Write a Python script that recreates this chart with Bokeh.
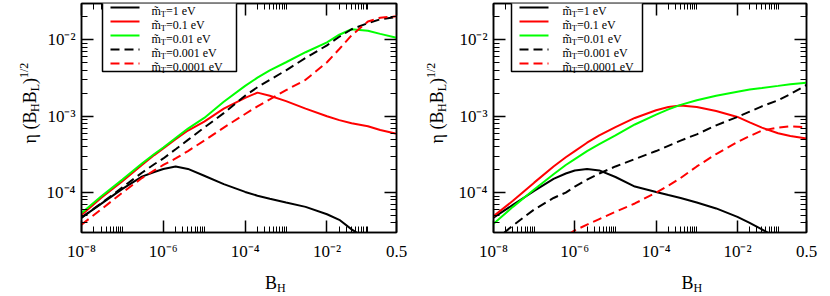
import math
from bokeh.plotting import figure
from bokeh.models import (Range1d, FixedTicker, LogAxis, CustomJSTickFormatter,
                          Label, BoxAnnotation, Arrow)
from bokeh.layouts import row, column
from bokeh.embed import file_html
from bokeh.resources import INLINE

# ---------------- data ----------------
B_H = [1e-8, 3e-8, 1e-7, 3e-7, 6e-7, 1e-6, 2e-6, 4e-6, 1e-5, 3e-5, 1e-4,
       2e-4, 4e-4, 1e-3, 3e-3, 1e-2, 2e-2, 4e-2, 1e-1, 2e-1, 5e-1]

# left panel
L_m1 = [4.7e-5, 7.1e-5, 1.12e-4, 1.62e-4, 1.86e-4, 2.04e-4, 2.19e-4, 2.04e-4, 1.66e-4, 1.29e-4, 1.02e-4,
        9.1e-5, 8.3e-5, 7.4e-5, 6.5e-5, 5.2e-5, 4.4e-5, 3.3e-5, 2.4e-5, 1.9e-5, 1.4e-5]
L_m01 = [5.1e-5, 8.5e-5, 1.41e-4, 2.3e-4, 3.1e-4, 3.8e-4, 5.0e-4, 6.5e-4, 8.5e-4, 1.26e-3, 1.74e-3,
         2.04e-3, 1.86e-3, 1.58e-3, 1.26e-3, 1.0e-3, 8.9e-4, 8.1e-4, 7.4e-4, 6.6e-4, 5.9e-4]
L_m001 = [5.4e-5, 8.9e-5, 1.48e-4, 2.4e-4, 3.2e-4, 3.9e-4, 5.2e-4, 6.9e-4, 9.5e-4, 1.55e-3, 2.5e-3,
          3.2e-3, 4.0e-3, 5.1e-3, 6.9e-3, 9.3e-3, 1.17e-2, 1.38e-2, 1.32e-2, 1.2e-2, 1.07e-2]
L_m0001 = [4.7e-5, 7.2e-5, 1.17e-4, 1.82e-4, 2.35e-4, 2.8e-4, 3.7e-4, 4.9e-4, 7.1e-4, 1.1e-3, 1.86e-3,
           2.4e-3, 3.0e-3, 4.0e-3, 5.8e-3, 8.5e-3, 1.1e-2, 1.38e-2, 1.66e-2, 1.86e-2, 2.0e-2]
L_m00001 = [3.8e-5, 6.0e-5, 1.0e-4, 1.55e-4, 1.95e-4, 2.3e-4, 2.8e-4, 3.5e-4, 4.8e-4, 7.1e-4, 1.07e-3,
            1.35e-3, 1.66e-3, 2.2e-3, 3.0e-3, 5.1e-3, 7.6e-3, 1.15e-2, 1.74e-2, 1.95e-2, 2.04e-2]

# right panel
R_m1 = [4.7e-5, 6.9e-5, 1.05e-4, 1.51e-4, 1.78e-4, 1.95e-4, 2.04e-4, 1.95e-4, 1.6e-4, 1.2e-4, 1.02e-4,
        9.3e-5, 8.5e-5, 7.4e-5, 6.2e-5, 4.8e-5, 4.0e-5, 3.3e-5, 2.5e-5, 2.0e-5, 1.5e-5]
R_m01 = [4.9e-5, 7.8e-5, 1.35e-4, 2.2e-4, 2.9e-4, 3.5e-4, 4.5e-4, 5.6e-4, 7.2e-4, 9.5e-4, 1.2e-3,
         1.32e-3, 1.38e-3, 1.32e-3, 1.17e-3, 9.8e-4, 8.3e-4, 7.1e-4, 6.0e-4, 5.5e-4, 5.1e-4]
R_m001 = [3.9e-5, 6.5e-5, 1.1e-4, 1.74e-4, 2.3e-4, 2.75e-4, 3.5e-4, 4.3e-4, 5.6e-4, 7.8e-4, 1.05e-3,
          1.23e-3, 1.41e-3, 1.62e-3, 1.86e-3, 2.1e-3, 2.24e-3, 2.34e-3, 2.5e-3, 2.63e-3, 2.75e-3]
R_m0001 = [2.3e-5, 3.7e-5, 6.0e-5, 8.5e-5, 1.0e-4, 1.2e-4, 1.48e-4, 1.78e-4, 2.2e-4, 2.75e-4, 3.5e-4,
           4.1e-4, 4.8e-4, 5.8e-4, 7.6e-4, 9.8e-4, 1.15e-3, 1.35e-3, 1.62e-3, 1.95e-3, 2.57e-3]
R_m00001 = [8.9e-6, 1.17e-5, 1.6e-5, 2.2e-5, 2.7e-5, 3.2e-5, 3.8e-5, 4.5e-5, 5.6e-5, 7.2e-5, 1.0e-4,
            1.23e-4, 1.55e-4, 2.2e-4, 3.2e-4, 4.6e-4, 5.5e-4, 6.5e-4, 7.1e-4, 7.4e-4, 7.2e-4]

LEGEND_LABELS = ["=1 eV", "=0.1 eV", "=0.01 eV", "=0.001 eV", "=0.0001 eV"]

X_TICKS = [1e-8, 1e-6, 1e-4, 1e-2, 0.5]
X_TICK_LABELS = ["10⁻⁸", "10⁻⁶", "10⁻⁴", "10⁻²", "0.5"]
X_MINOR = [2e-8, 3e-8, 4e-8, 5e-8, 6e-8, 7e-8, 8e-8, 9e-8, 1e-7,
           2e-6, 3e-6, 4e-6, 5e-6, 6e-6, 7e-6, 8e-6, 9e-6, 1e-5,
           2e-4, 3e-4, 4e-4, 5e-4, 6e-4, 7e-4, 8e-4, 9e-4, 1e-3,
           2e-2, 3e-2, 4e-2, 5e-2, 6e-2, 7e-2, 8e-2, 9e-2, 1e-1]
Y_TICKS = [1e-4, 1e-3, 1e-2]
Y_TICK_LABELS = ["10⁻⁴", "10⁻³", "10⁻²"]
Y_MINOR = [4e-5, 5e-5, 6e-5, 7e-5, 8e-5, 9e-5,
           2e-4, 3e-4, 4e-4, 5e-4, 6e-4, 7e-4, 8e-4, 9e-4,
           2e-3, 3e-3, 4e-3, 5e-3, 6e-3, 7e-3, 8e-3, 9e-3,
           2e-2, 3e-2]

STYLES = [("black", "solid"), ("red", "solid"), ("#00ff00", "solid"),
          ("black", "9 5"), ("red", "9 5")]

FONT = "Liberation Serif"
TOTAL_H = 296
XLAB_H = 33
PANEL_H = TOTAL_H - XLAB_H
B_TOP = 3
B_BOT = 29
FH = PANEL_H - B_TOP - B_BOT


def label_fmt(tv, tl):
    return CustomJSTickFormatter(args=dict(tv=tv, tl=tl), code="""
        for (let i = 0; i < tv.length; i++) {
            if (Math.abs(tick / tv[i] - 1) < 1e-6) { return tl[i]; }
        }
        return "";
    """)


def style_axis(ax, labels=True):
    ax.axis_line_width = 1.5
    ax.axis_line_color = "black"
    ax.major_tick_in = 12
    ax.major_tick_out = 0
    ax.minor_tick_in = 6
    ax.minor_tick_out = 0
    ax.major_tick_line_width = 1.5
    ax.minor_tick_line_width = 1
    ax.major_tick_line_color = "black"
    ax.minor_tick_line_color = "black"
    if labels:
        ax.major_label_text_font = FONT
        ax.major_label_text_font_size = "17px"
        ax.major_label_text_color = "black"
    else:
        ax.major_label_text_font_size = "0px"
        ax.major_label_standoff = 0


def text_fig(w, h):
    f = figure(width=w, height=h, output_backend="svg", toolbar_location=None,
               x_axis_location=None, y_axis_location=None, min_border=0,
               x_range=Range1d(0, 1), y_range=Range1d(0, 1),
               outline_line_color=None, background_fill_color="white",
               border_fill_color="white")
    f.grid.visible = False
    return f


def ylab_fig(w, xb):
    f = text_fig(w, TOTAL_H)
    y0 = 153
    # η (B_H B_L)^1/2, rotated, pieces placed along the text direction
    pieces = [("η (B", 0.0, 0, "18px"), ("H", 31.5, 5, "12px"), ("B", 40.2, 0, "18px"),
              ("L", 52.2, 5, "12px"), (")", 59.5, 0, "18px"), ("1/2", 65.5, -6, "12px")]
    for txt, dy, dx, fs in pieces:
        f.add_layout(Label(x=xb + dx, y=y0 + dy, x_units="screen", y_units="screen",
                           text=txt, angle=math.pi / 2, text_font=FONT, text_font_size=fs,
                           text_color="black", text_align="left", text_baseline="alphabetic"))
    return f


def xlab_fig(w, xb):
    f = text_fig(w, XLAB_H)
    f.add_layout(Label(x=xb, y=14, x_units="screen", y_units="screen",
                       text="B", text_font=FONT, text_font_size="18px",
                       text_color="black", text_baseline="alphabetic"))
    f.add_layout(Label(x=xb + 12, y=8.5, x_units="screen", y_units="screen",
                       text="H", text_font=FONT, text_font_size="12px",
                       text_color="black", text_baseline="alphabetic"))
    return f


def panel(series, fig_w, bl, br, leg_left, leg_w, sample_x0, text_x0):
    p = figure(width=fig_w, height=PANEL_H, x_axis_type="log", y_axis_type="log",
               x_range=Range1d(1e-8, 0.5), y_range=Range1d(3e-5, 3e-2),
               output_backend="svg", toolbar_location=None,
               min_border_left=bl, min_border_right=br,
               min_border_top=B_TOP, min_border_bottom=B_BOT,
               background_fill_color="white", border_fill_color="white")
    p.grid.visible = False
    p.outline_line_color = "black"
    p.outline_line_width = 1.5

    for vals, (color, dash) in zip(series, STYLES):
        p.line(B_H, vals, line_color=color, line_width=2, line_dash=dash)

    p.xaxis.ticker = FixedTicker(ticks=X_TICKS, minor_ticks=X_MINOR)
    p.xaxis.formatter = label_fmt(X_TICKS, X_TICK_LABELS)
    p.yaxis.ticker = FixedTicker(ticks=Y_TICKS, minor_ticks=Y_MINOR)
    p.yaxis.formatter = label_fmt(Y_TICKS, Y_TICK_LABELS)
    for ax in p.xaxis + p.yaxis:
        style_axis(ax)
    p.xaxis.major_label_standoff = 9
    p.yaxis.major_label_standoff = 6

    top = LogAxis(ticker=FixedTicker(ticks=X_TICKS, minor_ticks=X_MINOR),
                  formatter=CustomJSTickFormatter(code="return '';"))
    right = LogAxis(ticker=FixedTicker(ticks=Y_TICKS, minor_ticks=Y_MINOR),
                    formatter=CustomJSTickFormatter(code="return '';"))
    style_axis(top, labels=False)
    style_axis(right, labels=False)
    p.add_layout(top, "above")
    p.add_layout(right, "right")

    # legend (XMGrace-like box)
    p.add_layout(BoxAnnotation(left=leg_left, right=leg_left + leg_w, top=FH, bottom=FH - 70,
                               left_units="screen", right_units="screen",
                               top_units="screen", bottom_units="screen",
                               fill_color="white", fill_alpha=1.0,
                               line_color="black", line_alpha=1.0, line_width=1.5))
    rows = [6, 20, 34, 48, 62]
    for r, (color, dash), txt in zip(rows, STYLES, LEGEND_LABELS):
        yc = FH - r
        p.add_layout(Arrow(end=None, x_start=sample_x0, x_end=sample_x0 + 29,
                           y_start=yc, y_end=yc, start_units="screen", end_units="screen",
                           line_color=color, line_width=2, line_dash=dash))
        p.add_layout(Label(x=text_x0, y=yc - 3.5, x_units="screen", y_units="screen",
                           text="m̃", text_font=FONT, text_font_size="12px",
                           text_color="black", text_baseline="alphabetic"))
        p.add_layout(Label(x=text_x0 + 9.3, y=yc - 6.5, x_units="screen", y_units="screen",
                           text="T", text_font=FONT, text_font_size="8.5px",
                           text_color="black", text_baseline="alphabetic"))
        p.add_layout(Label(x=text_x0 + 14.5, y=yc - 3.5, x_units="screen", y_units="screen",
                           text=txt, text_font=FONT, text_font_size="12px",
                           text_color="black", text_baseline="alphabetic"))
    return p


# left block: x 0..415 ; right block: x 415..830
ylL = ylab_fig(43, 29)
pL = panel([L_m1, L_m01, L_m001, L_m0001, L_m00001], 372, 36, 19, 21, 134, 29, 70)
xlL = xlab_fig(372, 183.5)

ylR = ylab_fig(40, 21)
pR = panel([R_m1, R_m01, R_m001, R_m0001, R_m00001], 375, 36, 24, 18, 131, 26, 69)
xlR = xlab_fig(375, 188)

layout = row(ylL, column(pL, xlL), ylR, column(pR, xlR))
open("out.html", "w").write(file_html(layout, INLINE))
